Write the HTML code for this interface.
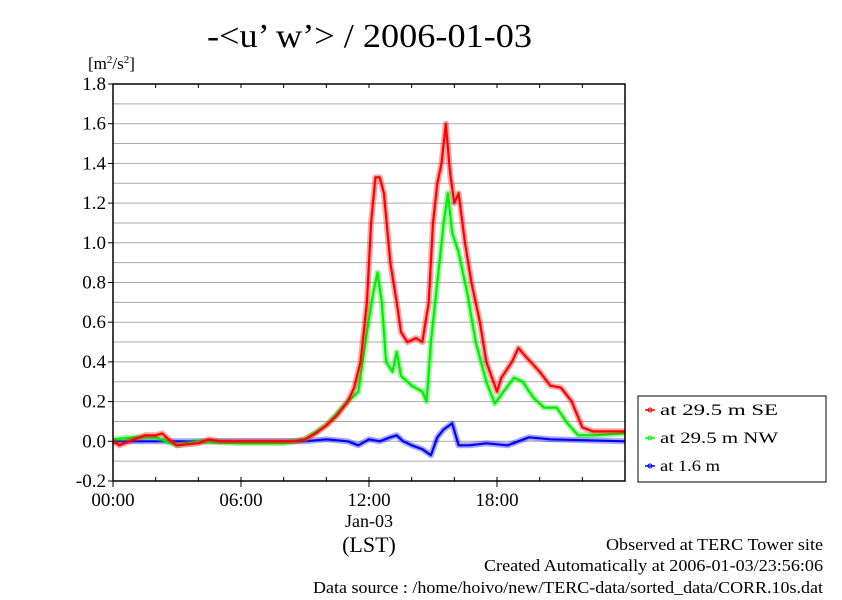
<!DOCTYPE html>
<html><head><meta charset="utf-8"><style>
body{margin:0;background:#fff;}
svg text{font-family:"Liberation Serif",serif;fill:#000;}
</style></head><body>
<svg width="842" height="595" viewBox="0 0 842 595">
<text x="207" y="47" font-size="34" textLength="325" lengthAdjust="spacingAndGlyphs">-&lt;u’ w’&gt; / 2006-01-03</text>
<text x="88" y="69" font-size="17">[m<tspan font-size="11" dy="-6">2</tspan><tspan dy="6">/s</tspan><tspan font-size="11" dy="-6">2</tspan><tspan dy="6">]</tspan></text>
<g id="grid"></g>
<g id="yticks"></g>
<g id="xticks"></g>
<g id="series"></g>
<rect x="113" y="84" width="512" height="397" fill="none" stroke="#000" stroke-width="1.5"/>
<text x="369" y="527" font-size="18" text-anchor="middle">Jan-03</text>
<text x="369" y="552" font-size="22" text-anchor="middle">(LST)</text>
<g>
<rect x="638" y="396" width="188" height="86" fill="#fff" stroke="#000" stroke-width="1"/>
<g><line x1="645" y1="410" x2="655" y2="410" stroke="#f00" stroke-width="1.5"/><circle cx="650" cy="410" r="2" fill="none" stroke="#f00"/><text x="660" y="415" font-size="16" textLength="118" lengthAdjust="spacingAndGlyphs">at 29.5 m SE</text></g>
<g><line x1="645" y1="438" x2="655" y2="438" stroke="#0f0" stroke-width="1.5"/><circle cx="650" cy="438" r="2" fill="none" stroke="#0f0"/><text x="660" y="443" font-size="16" textLength="118" lengthAdjust="spacingAndGlyphs">at 29.5 m NW</text></g>
<g><line x1="645" y1="466" x2="655" y2="466" stroke="#00f" stroke-width="1.5"/><circle cx="650" cy="466" r="2" fill="none" stroke="#00f"/><text x="660" y="471" font-size="16" textLength="60" lengthAdjust="spacingAndGlyphs">at 1.6 m</text></g>
</g>
<text x="823" y="550" font-size="17" text-anchor="end" textLength="217" lengthAdjust="spacingAndGlyphs">Observed at TERC Tower site</text>
<text x="823" y="571" font-size="17" text-anchor="end" textLength="339" lengthAdjust="spacingAndGlyphs">Created Automatically at 2006-01-03/23:56:06</text>
<text x="823" y="593" font-size="17" text-anchor="end" textLength="510" lengthAdjust="spacingAndGlyphs">Data source : /home/hoivo/new/TERC-data/sorted_data/CORR.10s.dat</text>
</svg>
<script>
const yTicks=[-0.2,0.0,0.2,0.4,0.6,0.8,1.0,1.2,1.4,1.6,1.8];
const yTickLabels=["-0.2","0.0","0.2","0.4","0.6","0.8","1.0","1.2","1.4","1.6","1.8"];
const xTicks=[0,6,12,18];
const xTickLabels=["00:00","06:00","12:00","18:00"];
const seT=[0,0.3,1,1.5,2,2.3,2.6,3,4,4.5,5,6,7,8,8.5,9,9.5,10,10.5,11,11.3,11.6,11.9,12.1,12.3,12.5,12.7,13,13.3,13.5,13.8,14.2,14.5,14.8,15,15.2,15.4,15.6,15.8,16,16.2,16.5,16.8,17.2,17.5,18,18.2,18.7,19,19.4,20,20.5,21,21.5,22,22.5,24];
const seV=[0,-0.02,0.01,0.03,0.03,0.04,0.01,-0.02,-0.01,0.01,0,0,0,0,0,0.01,0.04,0.08,0.13,0.2,0.27,0.4,0.7,1.1,1.33,1.33,1.25,0.9,0.7,0.55,0.5,0.52,0.5,0.7,1.1,1.3,1.4,1.6,1.35,1.2,1.25,1.0,0.8,0.6,0.4,0.25,0.32,0.4,0.47,0.42,0.35,0.28,0.27,0.2,0.07,0.05,0.05];
const nwT=[0,1,2,3,4,6,8,9,10,11,11.5,11.9,12.2,12.4,12.6,12.8,13.1,13.3,13.5,14,14.5,14.7,14.9,15.2,15.5,15.7,15.9,16.2,16.6,17,17.5,17.9,18.3,18.8,19.2,19.7,20.2,20.8,21.3,21.8,22.5,24];
const nwV=[0.01,0.02,0.02,-0.02,0,-0.01,-0.01,0.01,0.08,0.2,0.25,0.55,0.75,0.85,0.7,0.4,0.35,0.45,0.33,0.28,0.25,0.2,0.5,0.8,1.1,1.25,1.05,0.95,0.75,0.5,0.3,0.19,0.25,0.32,0.3,0.22,0.17,0.17,0.09,0.03,0.03,0.04];
const lowT=[0,6,9,10,11,11.5,12,12.5,13,13.3,13.6,14,14.5,14.9,15.2,15.5,15.9,16.2,16.7,17.5,18.5,19.5,20.5,24];
const lowV=[0,0,0,0.01,0,-0.02,0.01,0,0.02,0.03,0,-0.02,-0.04,-0.07,0.02,0.06,0.09,-0.02,-0.02,-0.01,-0.02,0.02,0.01,0];
const X0=113,X1=625,Y0=481,Y1=84;
const xs=h=>X0+(X1-X0)*h/24;
const ys=v=>Y0-(Y0-Y1)*(v+0.2)/2.0;
const NS="http://www.w3.org/2000/svg";
function mk(tag,parent,attrs){const e=document.createElementNS(NS,tag);for(const k in attrs)e.setAttribute(k,attrs[k]);parent.appendChild(e);return e;}
const grid=document.getElementById('grid'),yt=document.getElementById('yticks'),xt=document.getElementById('xticks'),ser=document.getElementById('series');
for(let i=-1;i<=17;i++){const v=i/10;const l=mk('line',grid,{x1:X0,x2:X1,y1:ys(v),y2:ys(v),stroke:'#aaa','stroke-width':1});

}
yTicks.forEach((v,i)=>{const l=mk('line',yt,{x1:X0-5,x2:X0,y1:ys(v),y2:ys(v),stroke:'#000'});


const t=mk('text',yt,{x:X0-7,y:ys(v)+6,'font-size':19,'text-anchor':'end'});t.textContent=yTickLabels[i];

});
for(let h=0;h<=24;h+=2){const l=mk('line',xt,{x1:xs(h),x2:xs(h),y1:Y1,y2:Y1+4,stroke:'#000'});


const l2=mk('line',xt,{x1:xs(h),x2:xs(h),y1:Y0,y2:Y0-4,stroke:'#000'});

}
xTicks.forEach((h,i)=>{const l=mk('line',xt,{x1:xs(h),x2:xs(h),y1:Y0,y2:Y0+6,stroke:'#000'});


const t=mk('text',xt,{x:xs(h),y:Y0+25,'font-size':19,'text-anchor':'middle'});t.textContent=xTickLabels[i];

});
function draw(T,V,col,name){const d=T.map((h,i)=>(i?'L':'M')+xs(h).toFixed(1)+','+ys(V[i]).toFixed(1)).join('');
const halo=mk('path',ser,{d:d,fill:'none',stroke:col,'stroke-width':6,'stroke-opacity':0.35,'stroke-linejoin':'round'});


const p=mk('path',ser,{d:d,fill:'none',stroke:col,'stroke-width':2.2,'stroke-linejoin':'round'});

}
draw(lowT,lowV,'#00f','series-1-6m');
draw(nwT,nwV,'#0e0','series-29-5m-nw');
draw(seT,seV,'#f00','series-29-5m-se');
</script>
</body></html>
